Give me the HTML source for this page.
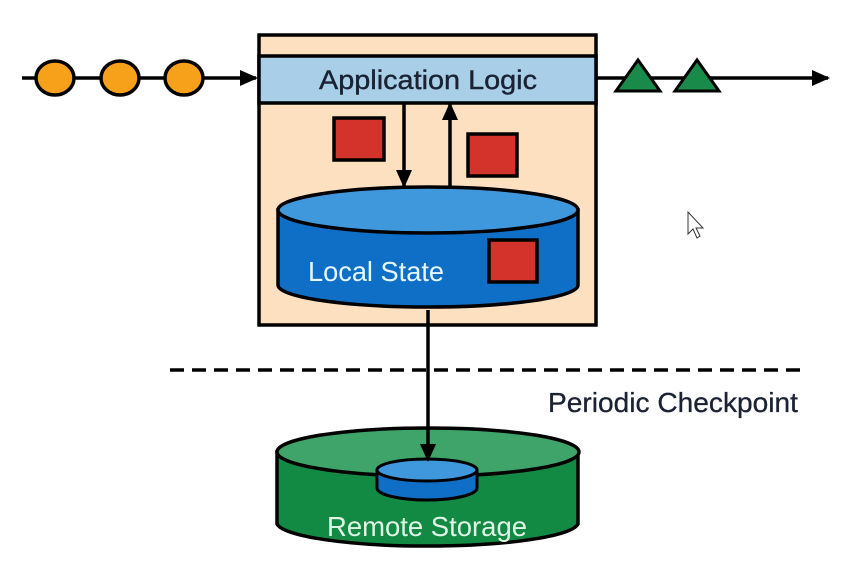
<!DOCTYPE html>
<html><head><style>body{margin:0;background:#fff}svg{display:block}</style></head><body>
<svg width="842" height="575" viewBox="0 0 842 575" xmlns="http://www.w3.org/2000/svg" font-family="Liberation Sans, sans-serif">
<defs>
<marker id="b" markerWidth="18" markerHeight="16" refX="16" refY="8" orient="auto" markerUnits="userSpaceOnUse"><path d="M0,0 L18,8 L0,16z" fill="#000"/></marker></defs>
<line x1="22" y1="78" x2="256" y2="78" stroke="#000" stroke-width="3.5" marker-end="url(#b)"/>
<g fill="#f7a11a" stroke="#000" stroke-width="3.5">
<ellipse cx="55" cy="78" rx="19" ry="17"/><ellipse cx="120" cy="78" rx="19" ry="17"/><ellipse cx="184" cy="78" rx="19" ry="17"/></g>
<line x1="596" y1="78" x2="828" y2="78" stroke="#000" stroke-width="3.5" marker-end="url(#b)"/>
<g fill="#1a8a4a" stroke="#000" stroke-width="3">
<path d="M616,91 L638,60 L660,91z"/><path d="M675,91 L697,60 L719,91z"/></g>
<rect x="259" y="35" width="337" height="290" fill="#fde0c0" stroke="#000" stroke-width="3.5"/>
<rect x="259" y="56" width="337" height="47" fill="#a9cfe8" stroke="#000" stroke-width="3.5"/>
<text x="428" y="89" font-size="27" text-anchor="middle" fill="#1a2233" stroke="#1a2233" stroke-width="0.4" textLength="218" lengthAdjust="spacingAndGlyphs">Application Logic</text>
<rect x="334" y="118" width="50" height="42" fill="#d3332a" stroke="#000" stroke-width="3.5"/>
<rect x="468" y="134" width="49" height="42" fill="#d3332a" stroke="#000" stroke-width="3.5"/>
<line x1="404" y1="104" x2="404" y2="186" stroke="#000" stroke-width="3.5" marker-end="url(#b)"/>
<line x1="450" y1="186" x2="450" y2="104" stroke="#000" stroke-width="3.5" marker-end="url(#b)"/>
<path d="M278,210 L278,285 A150,22 0 0 0 578,285 L578,210z" fill="#0f6fc6" stroke="#000" stroke-width="3.5"/>
<ellipse cx="428" cy="210" rx="150" ry="23" fill="#3f98dc" stroke="#000" stroke-width="3.5"/>
<text x="376" y="281" font-size="28" text-anchor="middle" fill="#e6f7ff" textLength="136" lengthAdjust="spacingAndGlyphs">Local State</text>
<rect x="489" y="240" width="48" height="42" fill="#d3332a" stroke="#000" stroke-width="3.5"/>
<line x1="170" y1="370" x2="805" y2="370" stroke="#000" stroke-width="3.5" stroke-dasharray="14,8"/>
<text x="548" y="412" font-size="28" fill="#1a2233" stroke="#1a2233" stroke-width="0.3" textLength="250" lengthAdjust="spacingAndGlyphs">Periodic Checkpoint</text>
<path d="M277,452 L277,524 A151,24 0 0 0 578,524 L578,452z" fill="#138a44" stroke="#000" stroke-width="3.5"/>
<ellipse cx="428" cy="452" rx="151" ry="24" fill="#3fa46a" stroke="#000" stroke-width="3.5"/>
<path d="M377,470 L377,488 A50,12 0 0 0 477,488 L477,470z" fill="#0f6fc6" stroke="#000" stroke-width="3"/>
<ellipse cx="427" cy="470" rx="50" ry="11" fill="#3f98dc" stroke="#000" stroke-width="3"/>
<line x1="428" y1="310" x2="428" y2="460" stroke="#000" stroke-width="3.5" marker-end="url(#b)"/>
<text x="427" y="536" font-size="28" text-anchor="middle" fill="#dff5e6" textLength="200" lengthAdjust="spacingAndGlyphs">Remote Storage</text>
<path d="M688,212 L688,234 L693,229 L697,238 L700,236 L696,228 L703,228z" fill="#fff" stroke="#333" stroke-width="1"/>
</svg>
</body></html>
